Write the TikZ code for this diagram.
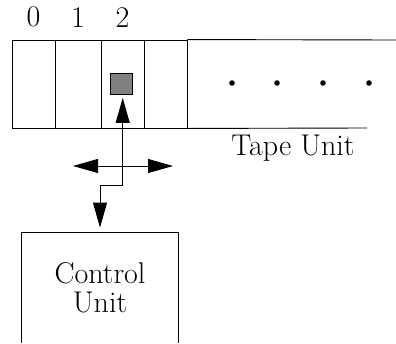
\documentclass[tikz,border=0pt]{standalone}
\usetikzlibrary{arrows.meta, positioning}

\begin{document}
\begin{tikzpicture}[
    x=1pt, y=-1pt,
    line width=0.9pt,
    cell/.style={draw, rectangle, minimum height=88pt, inner sep=0pt},
    digit/.style={font=\fontsize{30}{34}\selectfont, inner sep=0pt},
    caption/.style={font=\fontsize{30}{34}\selectfont, align=center},
    head/.style={draw, fill=black!50, rectangle, minimum width=22pt, minimum height=21pt, inner sep=0pt, line width=0.8pt},
    tip/.style={-{Triangle[length=25pt, width=14pt]}},
    twotip/.style={{Triangle[length=25pt, width=14pt]}-{Triangle[length=25pt, width=14pt]}}
]
\useasboundingbox (0,0) rectangle (396,343);

% Tape cells
\foreach \i/\xl/\xr in {0/12/55, 1/55/101, 2/101/144, 3/144/187}
    \node[cell, minimum width={(\xr-\xl)*1pt}] (cell\i) at ({(\xl+\xr)/2}, 84) {};
\foreach \i in {0,1,2}
    \node[digit, above=12pt of cell\i] (num\i) {\i};

\coordinate (tapetop) at (396, 40);
\coordinate (tapebot) at (367, 128);
\draw (cell3.north east) -- (tapetop);
\draw (cell3.south east) -- (tapebot);

% Dots
\foreach \x in {232, 277, 323, 369}
    \fill (\x, 83) circle (2.8pt);

\node[caption] (tapelbl) at (293, 148) {Tape Unit};

% Head
\node[head] (rw) at (121.5, 84) {};

% Control unit
\node[minimum width=156pt, minimum height=110pt, inner sep=0pt, caption] (ctrl) at (100, 288) {Control\\[-5pt]Unit};
\draw (ctrl.south west) -- (ctrl.north west) -- (ctrl.north east) -- (ctrl.south east);

% Arrows
\coordinate (jct) at (122.7, 185);
\coordinate (mvl) at (73, 166);
\coordinate (mvr) at (173, 166);
\draw[tip, shorten >=3pt] (jct) -- (rw.south -| jct);
\draw[twotip] (mvl) -- (mvr);
\draw[tip, shorten >=5pt] (jct) -| (ctrl.north);

\end{tikzpicture}
\end{document}
